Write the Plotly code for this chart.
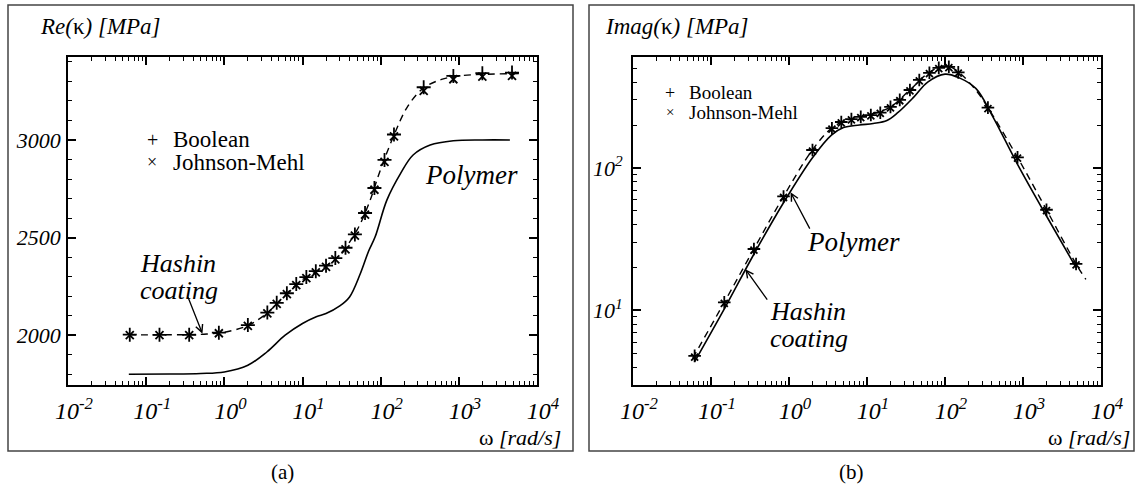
import math
import plotly.graph_objects as go

# ---------------- data ----------------
omega_pts = [0.0617, 0.148, 0.355, 0.851, 2.0, 3.55, 4.68, 6.31, 8.32, 11.2, 14.8,
             20.0, 26.3, 35.5, 46.8, 63.1, 83.2, 112, 148, 355, 851, 2000, 4790]

re_boolean = [2003, 2002, 2002, 2013, 2052, 2116, 2166, 2215, 2262, 2298, 2328,
              2356, 2395, 2448, 2516, 2626, 2754, 2898, 3028, 3270, 3328, 3342, 3345]
re_jm = [2000, 2000, 2000, 2010, 2048, 2112, 2160, 2210, 2256, 2292, 2322,
         2350, 2388, 2440, 2510, 2618, 2745, 2888, 3018, 3252, 3311, 3325, 3328]

im_boolean = [4.8, 11.4, 27.0, 63.1, 133.6, 190, 210, 220, 228, 235, 244,
              268, 300, 352, 414, 465, 503, 512, 468, 265, 118.6, 50.9, 21.2]
im_jm = [4.7, 11.2, 26.5, 62.0, 131, 187, 207, 217, 225, 232, 241,
         264, 296, 347, 408, 459, 497, 506, 462, 261, 117, 50.2, 20.9]

omega_re_hashin = [0.06, 0.15, 0.35, 0.6, 1.0, 2.0, 3.5, 6.0, 10, 20, 30, 50, 70,
                   100, 150, 220, 350, 600, 1000, 2000, 6000]
re_hashin = [2002, 2002, 2003, 2006, 2015, 2050, 2112, 2206, 2285, 2355, 2412, 2540,
             2670, 2850, 3030, 3170, 3265, 3310, 3328, 3336, 3340]

omega_re_polymer = [0.06, 0.2, 0.5, 1.0, 2.0, 3.5, 6.0, 10, 15, 20, 30, 40, 55, 70,
                    85, 120, 180, 260, 430, 850, 2000, 4500]
re_polymer = [1800, 1801, 1804, 1812, 1846, 1914, 2000, 2060, 2095, 2111, 2150, 2196,
              2316, 2430, 2504, 2692, 2829, 2923, 2974, 2996, 3000, 3000]

omega_im_hashin = [0.058, 0.148, 0.355, 0.85, 2.0, 3.5, 5.0, 8.0, 12, 20, 35, 60,
                   90, 110, 150, 250, 355, 851, 2000, 4790, 6400]
im_hashin = [4.6, 11.4, 27.0, 63.0, 134, 190, 212, 228, 240, 268, 350, 460,
             515, 518, 470, 350, 265, 118.6, 50.9, 21.2, 16.5]

omega_im_polymer = [0.062, 0.15, 0.35, 0.85, 2.0, 3.5, 5.0, 8.0, 12, 18, 25, 40,
                    60, 100, 150, 250, 400, 851, 2000, 4790]
im_polymer = [4.4, 10.4, 24.5, 57, 118, 170, 192, 200, 205, 215, 245, 315,
              400, 455, 430, 360, 235, 106, 46, 20]

x_tickvals = [0.01, 0.1, 1, 10, 100, 1000, 10000]
x_ticktext = ["10<sup>-2</sup>", "10<sup>-1</sup>", "10<sup>0</sup>", "10<sup>1</sup>",
              "10<sup>2</sup>", "10<sup>3</sup>", "10<sup>4</sup>"]
im_tickvals = [10, 100]
im_ticktext = ["10<sup>1</sup>", "10<sup>2</sup>"]

# ---------------- figure ----------------
W, H = 1136, 484
FONT = "Liberation Serif"


def px(x):
    return x / W


def py(y):
    return 1 - y / H


fig = go.Figure()

DASH = "7px,5px"

# left panel
fig.add_trace(go.Scatter(x=omega_re_polymer, y=re_polymer, mode="lines", name="Polymer",
                         line=dict(color="black", width=1.6, shape="spline"),
                         xaxis="x", yaxis="y", showlegend=False))
fig.add_trace(go.Scatter(x=omega_re_hashin, y=re_hashin, mode="lines", name="Hashin coating",
                         line=dict(color="black", width=1.4, dash=DASH, shape="spline"),
                         xaxis="x", yaxis="y", showlegend=False))
fig.add_trace(go.Scatter(x=omega_pts, y=re_boolean, mode="markers", name="Boolean",
                         marker=dict(symbol="cross-thin", size=10, line=dict(color="black", width=1.8)),
                         xaxis="x", yaxis="y", showlegend=False))
fig.add_trace(go.Scatter(x=omega_pts, y=re_jm, mode="markers", name="Johnson-Mehl",
                         marker=dict(symbol="x-thin", size=8, line=dict(color="black", width=1.8)),
                         xaxis="x", yaxis="y", showlegend=False))

# right panel
fig.add_trace(go.Scatter(x=omega_im_polymer, y=im_polymer, mode="lines", name="Polymer",
                         line=dict(color="black", width=1.6, shape="spline"),
                         xaxis="x2", yaxis="y2", showlegend=False))
fig.add_trace(go.Scatter(x=omega_im_hashin, y=im_hashin, mode="lines", name="Hashin coating",
                         line=dict(color="black", width=1.4, dash=DASH, shape="spline"),
                         xaxis="x2", yaxis="y2", showlegend=False))
fig.add_trace(go.Scatter(x=omega_pts, y=im_boolean, mode="markers", name="Boolean",
                         marker=dict(symbol="cross-thin", size=9, line=dict(color="black", width=1.8)),
                         xaxis="x2", yaxis="y2", showlegend=False))
fig.add_trace(go.Scatter(x=omega_pts, y=im_jm, mode="markers", name="Johnson-Mehl",
                         marker=dict(symbol="x-thin", size=7, line=dict(color="black", width=1.8)),
                         xaxis="x2", yaxis="y2", showlegend=False))

common = dict(showline=True, linecolor="black", linewidth=1.8, mirror="allticks",
              ticks="inside", ticklen=8, tickwidth=1.5, tickcolor="black",
              showgrid=False, zeroline=False, automargin=False)
xcommon = dict(common, type="log", range=[-2, 4], tickmode="array",
               tickvals=x_tickvals, ticktext=x_ticktext,
               tickfont=dict(family=FONT, size=24, color="black", style="italic"),
               minor=dict(dtick="D1", ticks="inside", ticklen=4, tickwidth=1.2,
                          tickcolor="black", showgrid=False),
               ticklabelstandoff=3, ticklabelshift=6)
ytickfont = dict(family=FONT, size=22, color="black", style="italic")

fig.update_layout(
    width=W, height=H,
    autosize=False,
    margin=dict(l=0, r=0, t=0, b=0, pad=0, autoexpand=False),
    paper_bgcolor="white", plot_bgcolor="white",
    showlegend=False,
    font=dict(family=FONT, color="black"),
    xaxis=dict(xcommon, domain=[px(68), px(537)], anchor="y"),
    yaxis=dict(common, domain=[py(385), py(57)], anchor="x", range=[1745, 3425],
               tickmode="linear", tick0=2000, dtick=500, tickformat="d",
               tickfont=ytickfont,
               minor=dict(dtick=100, tick0=0, ticks="inside", ticklen=4, tickwidth=1.2,
                          tickcolor="black", showgrid=False),
               ticklabelstandoff=1),
    xaxis2=dict(xcommon, domain=[px(633), px(1101)], anchor="y2"),
    yaxis2=dict(common, type="log", domain=[py(385), py(57)], anchor="x2",
                range=[math.log10(3), math.log10(600)], tickmode="array",
                tickvals=im_tickvals, ticktext=im_ticktext, tickfont=ytickfont,
                minor=dict(dtick="D1", ticks="inside", ticklen=4, tickwidth=1.2,
                           tickcolor="black", showgrid=False),
                ticklabelstandoff=4),
)

# outer boxes
for (x0, x1) in [(8, 573), (589, 1134)]:
    fig.add_shape(type="rect", xref="paper", yref="paper",
                  x0=px(x0), x1=px(x1), y0=py(451), y1=py(5),
                  line=dict(color="#444444", width=1.5), fillcolor="rgba(0,0,0,0)")


def text(x, y, s, size, xanchor="center"):
    fig.add_annotation(xref="paper", yref="paper", x=px(x), y=py(y), text=s,
                       showarrow=False, xanchor=xanchor, yanchor="middle",
                       align=xanchor if xanchor != "center" else "center",
                       borderpad=0,
                       font=dict(family=FONT, size=size, color="black"))


# axis titles
text(39, 27, "<i>Re(</i>κ<i>) [MPa]</i>", 23, "left")
text(604, 27, "<i>Imag(</i>κ<i>) [MPa]</i>", 23, "left")
text(562, 437, "ω <i>[rad/s]</i>", 22, "right")
text(1131, 437, "ω <i>[rad/s]</i>", 22, "right")
text(282, 472, "(a)", 21)
text(851, 472, "(b)", 21)

# legends
text(152, 140, "+", 20)
text(172, 140, "Boolean", 23, "left")
text(152, 162, "×", 18)
text(172, 162, "Johnson-Mehl", 23, "left")
text(670, 92.5, "+", 18)
text(688, 92.5, "Boolean", 19, "left")
text(670, 112, "×", 15)
text(688, 112, "Johnson-Mehl", 19, "left")

# curve labels
text(471, 175, "<i>Polymer</i>", 27)
text(139, 263, "<i>Hashin</i>", 26, "left")
text(139, 290, "<i>coating</i>", 26, "left")
text(853, 242, "<i>Polymer</i>", 27)
text(769, 311, "<i>Hashin</i>", 26, "left")
text(769, 338, "<i>coating</i>", 26, "left")

# arrows (tip in data coordinates; log axes use log10 values)
arrow = dict(showarrow=True, text="", arrowhead=5, arrowsize=1.1, arrowwidth=1.3,
             arrowcolor="black", standoff=0)
fig.add_annotation(arrow, xref="x", yref="y", x=-0.28, y=2008, ax=-15, ay=-38)
fig.add_annotation(arrow, xref="x2", yref="y2", x=0.02, y=1.83, ax=20, ay=38)
fig.add_annotation(arrow, xref="x2", yref="y2", x=-0.56, y=1.29, ax=23, ay=32)

fig.write_html("out.html")
